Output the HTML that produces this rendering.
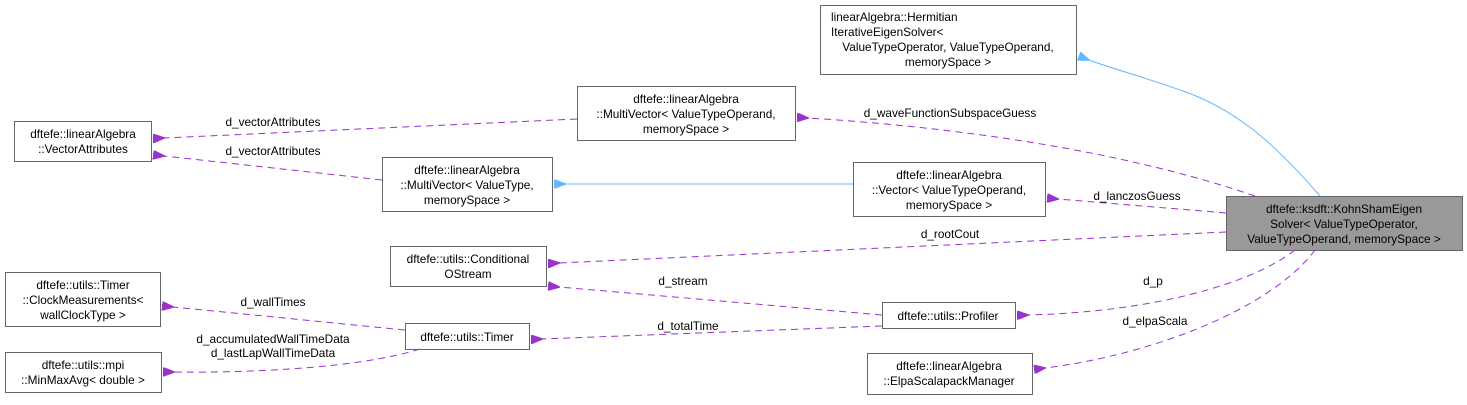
<!DOCTYPE html>
<html><head><meta charset="utf-8"><style>
html,body{margin:0;padding:0;background:#fff;}
svg text{font-family:"Liberation Sans",Helvetica,sans-serif;font-size:11.8px;fill:#000;}
</style></head><body>
<svg width="1467" height="400" viewBox="0 0 1467 400" xmlns="http://www.w3.org/2000/svg">
<defs>
<marker id="p" markerWidth="12" markerHeight="9" refX="1" refY="4.5" orient="auto-start-reverse" markerUnits="userSpaceOnUse" viewBox="0 0 12 9"><path d="M12,0 L0,4.5 L12,9 Z" fill="#9a32cd" stroke="#9a32cd"/></marker>
<marker id="b" markerWidth="12" markerHeight="9" refX="1" refY="4.5" orient="auto-start-reverse" markerUnits="userSpaceOnUse" viewBox="0 0 12 9"><path d="M12,0 L0,4.5 L12,9 Z" fill="#63b8ff" stroke="#63b8ff"/></marker>
</defs>
<g fill="#fff" stroke="#666" stroke-width="1">
<rect x="820.5" y="5.5" width="256" height="69"/>
<rect x="14.5" y="121.5" width="137" height="40"/>
<rect x="577.5" y="86.5" width="218" height="54"/>
<rect x="382.5" y="157.5" width="170" height="54"/>
<rect x="853.5" y="162.5" width="192" height="54"/>
<rect x="1226.5" y="196.5" width="236" height="54" fill="#999"/>
<rect x="390.5" y="246.5" width="156" height="40"/>
<rect x="5.5" y="272.5" width="155" height="54"/>
<rect x="405.5" y="323.5" width="124" height="26"/>
<rect x="5.5" y="352.5" width="156" height="40"/>
<rect x="882.5" y="302.5" width="133" height="26"/>
<rect x="867.5" y="353.5" width="165" height="41"/>
</g>
<g fill="none" stroke-width="1">
<path d="M1320,196 C1280,150 1240,110 1180,90 C1150,79 1110,68 1089,60" stroke="#63b8ff" marker-end="url(#b)"/>
<path d="M853,184 L565,184" stroke="#63b8ff" marker-end="url(#b)"/>
<g stroke="#9a32cd" stroke-dasharray="7,5">
<path d="M1255,196 C1150,160 1000,130 808,118" marker-end="url(#p)"/>
<path d="M1226,213 L1058,199" marker-end="url(#p)"/>
<path d="M1226,232 L559,263" marker-end="url(#p)"/>
<path d="M1295,250 C1250,285 1150,312 1028,315" marker-end="url(#p)"/>
<path d="M1315,250 C1270,310 1150,355 1045,368" marker-end="url(#p)"/>
<path d="M577,119 L164,138" marker-end="url(#p)"/>
<path d="M382,180 L164,156" marker-end="url(#p)"/>
<path d="M882,315 L559,287" marker-end="url(#p)"/>
<path d="M882,326 L542,339" marker-end="url(#p)"/>
<path d="M405,330 L173,307" marker-end="url(#p)"/>
<path d="M420,349 C360,368 250,373 174,372" marker-end="url(#p)"/>
</g>
</g>
<g text-anchor="start">
<text x="831" y="21">linearAlgebra::Hermitian</text>
<text x="831" y="36">IterativeEigenSolver&lt;</text>
</g>
<g text-anchor="middle">
<text x="948" y="51">ValueTypeOperator, ValueTypeOperand,</text>
<text x="948" y="66">memorySpace &gt;</text>
<text x="83" y="138">dftefe::linearAlgebra</text>
<text x="83" y="153">::VectorAttributes</text>
<text x="686" y="103">dftefe::linearAlgebra</text>
<text x="686" y="118">::MultiVector&lt; ValueTypeOperand,</text>
<text x="686" y="133">memorySpace &gt;</text>
<text x="467" y="174">dftefe::linearAlgebra</text>
<text x="467" y="189">::MultiVector&lt; ValueType,</text>
<text x="467" y="204">memorySpace &gt;</text>
<text x="949" y="179">dftefe::linearAlgebra</text>
<text x="949" y="194">::Vector&lt; ValueTypeOperand,</text>
<text x="949" y="209">memorySpace &gt;</text>
<text x="1344" y="213">dftefe::ksdft::KohnShamEigen</text>
<text x="1344" y="228">Solver&lt; ValueTypeOperator,</text>
<text x="1344" y="243">ValueTypeOperand, memorySpace &gt;</text>
<text x="468" y="263">dftefe::utils::Conditional</text>
<text x="468" y="278">OStream</text>
<text x="83" y="289">dftefe::utils::Timer</text>
<text x="83" y="304">::ClockMeasurements&lt;</text>
<text x="83" y="319">wallClockType &gt;</text>
<text x="467" y="341">dftefe::utils::Timer</text>
<text x="83" y="369">dftefe::utils::mpi</text>
<text x="83" y="384">::MinMaxAvg&lt; double &gt;</text>
<text x="948" y="320">dftefe::utils::Profiler</text>
<text x="949" y="370">dftefe::linearAlgebra</text>
<text x="949" y="385">::ElpaScalapackManager</text>
<text x="950" y="117">d_waveFunctionSubspaceGuess</text>
<text x="1137" y="200">d_lanczosGuess</text>
<text x="950" y="238">d_rootCout</text>
<text x="1153" y="285">d_p</text>
<text x="1155" y="325">d_elpaScala</text>
<text x="273" y="126">d_vectorAttributes</text>
<text x="273" y="155">d_vectorAttributes</text>
<text x="683" y="285">d_stream</text>
<text x="688" y="330">d_totalTime</text>
<text x="273" y="306">d_wallTimes</text>
<text x="273" y="343">d_accumulatedWallTimeData</text>
<text x="273" y="357">d_lastLapWallTimeData</text>
</g>
</svg>
</body></html>
